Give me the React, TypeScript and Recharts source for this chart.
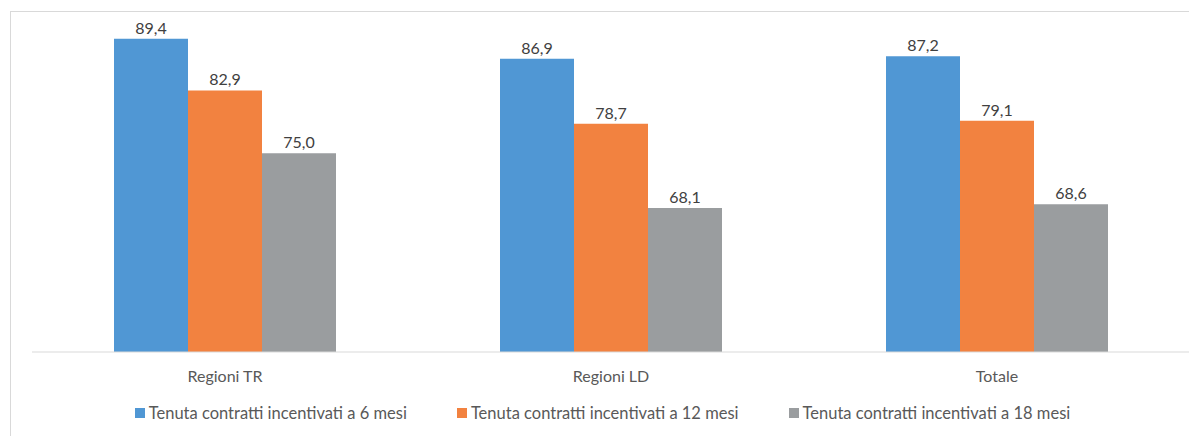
import React from 'react';
import { BarChart, Bar, XAxis, YAxis, Legend, LabelList } from 'recharts';

const categories = ['Regioni TR', 'Regioni LD', 'Totale'];
const mesi6 = [89.4, 86.9, 87.2];
const mesi12 = [82.9, 78.7, 79.1];
const mesi18 = [75.0, 68.1, 68.6];

const seriesNames = [
  'Tenuta contratti incentivati a 6 mesi',
  'Tenuta contratti incentivati a 12 mesi',
  'Tenuta contratti incentivati a 18 mesi',
];
const colors = ['#5097D4', '#F28240', '#9A9D9F'];

const data = categories.map((name, i) => ({
  name,
  m6: mesi6[i],
  m12: mesi12[i],
  m18: mesi18[i],
}));

const FONT = 'Lato, "Noto Sans", sans-serif';

const fmt = (v: any) => Number(v).toFixed(1).replace('.', ',');

// legenda disegnata a mano per tenere l'ordine delle serie
const LegendContent = () => (
  <div style={{ display: 'flex', justifyContent: 'center', gap: 50, fontFamily: FONT, fontSize: 16.5, color: '#595959' }}>
    {seriesNames.map((n, i) => (
      <div key={n} style={{ display: 'flex', alignItems: 'center' }}>
        <span style={{ width: 10, height: 10, background: colors[i], marginRight: 4, display: 'inline-block' }} />
        <span>{n}</span>
      </div>
    ))}
  </div>
);

const App: React.FC = () => {
  return (
    <div style={{ position: 'relative', width: 1189, height: 428, overflow: 'hidden' }}>
      <div
        style={{
          position: 'absolute', left: 2, top: 3, width: 1250, height: 500,
          border: '1px solid #d9d9d9', boxSizing: 'border-box',
        }}
      />
      <BarChart
        width={1189}
        height={428}
        data={data}
        margin={{ top: 26, right: 7, left: 24, bottom: 54 }}
        barCategoryGap={82}
        barGap={0}
        style={{ fontFamily: FONT }}
      >
        <XAxis
          dataKey="name"
          height={30}
          axisLine={{ stroke: '#d9d9d9' }}
          tickLine={false}
          tickMargin={13}
          tick={{ fill: '#595959', fontSize: 16 }}
        />
        <YAxis hide domain={[50, 90]} allowDataOverflow />
        <Legend
          verticalAlign="middle"
          align="center"
          content={LegendContent}
          wrapperStyle={{ top: 395, left: 0, width: 1189 }}
        />
        <Bar dataKey="m6" name={seriesNames[0]} fill={colors[0]} isAnimationActive={false}>
          <LabelList dataKey="m6" position="top" formatter={fmt} fill="#404040" fontSize={16} />
        </Bar>
        <Bar dataKey="m12" name={seriesNames[1]} fill={colors[1]} isAnimationActive={false}>
          <LabelList dataKey="m12" position="top" formatter={fmt} fill="#404040" fontSize={16} />
        </Bar>
        <Bar dataKey="m18" name={seriesNames[2]} fill={colors[2]} isAnimationActive={false}>
          <LabelList dataKey="m18" position="top" formatter={fmt} fill="#404040" fontSize={16} />
        </Bar>
      </BarChart>
    </div>
  );
};

export default App;
